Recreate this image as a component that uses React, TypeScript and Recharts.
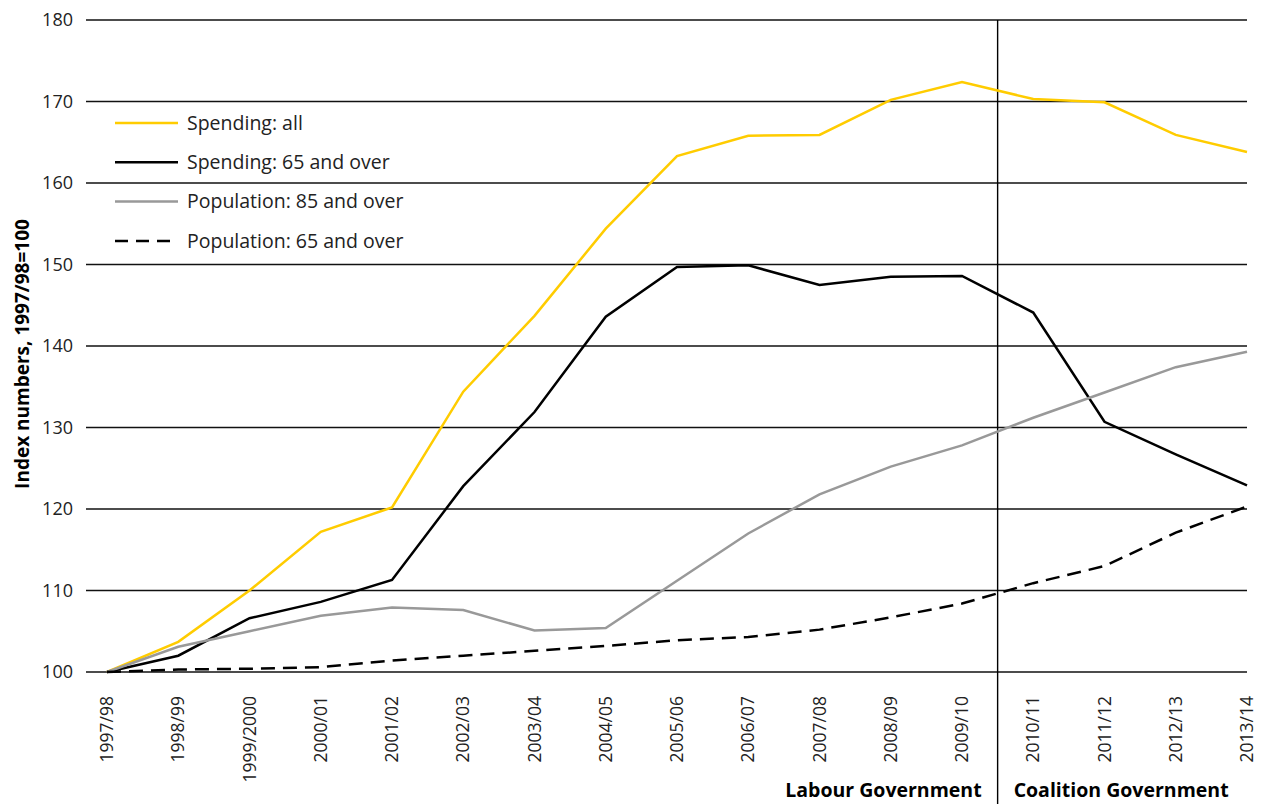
import * as React from "react";
import {
  LineChart,
  Line,
  XAxis,
  YAxis,
  CartesianGrid,
  ReferenceLine,
  Legend,
} from "recharts";

const categories = [
  "1997/98", "1998/99", "1999/2000", "2000/01", "2001/02", "2002/03",
  "2003/04", "2004/05", "2005/06", "2006/07", "2007/08", "2008/09",
  "2009/10", "2010/11", "2011/12", "2012/13", "2013/14",
];

const spendingAll = [
  100, 103.7, 110.0, 117.2, 120.2, 134.4, 143.7, 154.4, 163.3, 165.8,
  165.9, 170.2, 172.4, 170.3, 169.9, 165.9, 163.8,
];
const spending65 = [
  100, 102.0, 106.6, 108.6, 111.3, 122.8, 131.9, 143.6, 149.7, 149.9,
  147.5, 148.5, 148.6, 144.1, 130.7, 126.7, 122.9,
];
const population85 = [
  100, 103.1, 105.0, 106.9, 107.9, 107.6, 105.1, 105.4, 111.2, 117.0,
  121.8, 125.2, 127.8, 131.2, 134.3, 137.4, 139.3,
];
const population65 = [
  100, 100.3, 100.4, 100.6, 101.4, 102.0, 102.6, 103.2, 103.9, 104.3,
  105.2, 106.7, 108.4, 110.9, 113.0, 117.1, 120.3,
];

const yTicks = [100, 110, 120, 130, 140, 150, 160, 170, 180];

// the split between the two governments sits between 2009/10 and 2010/11
const govSplit = 12.5;

const series = [
  { key: "all", name: "Spending: all", color: "#FFCC00", dash: undefined },
  { key: "s65", name: "Spending: 65 and over", color: "#000000", dash: undefined },
  { key: "p85", name: "Population: 85 and over", color: "#999999", dash: undefined },
  { key: "p65", name: "Population: 65 and over", color: "#000000", dash: "14 8" },
];

const data = categories.map((c, i) => ({
  idx: i,
  label: c,
  all: spendingAll[i],
  s65: spending65[i],
  p85: population85[i],
  p65: population65[i],
}));

const FONT = "'Open Sans', 'Noto Sans', sans-serif";

function XTick(props) {
  const { x, y, payload } = props;
  return (
    <g transform={`translate(${x},${y + 16})`}>
      <text
        transform="rotate(-90)"
        textAnchor="end"
        dy="0.35em"
        fontSize={17.5}
        fontFamily={FONT}
        fill="#222"
      >
        {categories[payload.value]}
      </text>
    </g>
  );
}

function YTick(props) {
  const { y, payload } = props;
  return (
    <text
      x={73}
      y={y}
      dy="0.35em"
      textAnchor="end"
      fontSize={18}
      fontFamily={FONT}
      fill="#222"
    >
      {payload.value}
    </text>
  );
}

function GovLine(p) {
  const top = Math.min(p.y1, p.y2);
  return (
    <g>
      <line x1={p.x1} x2={p.x1} y1={top} y2={804} stroke="#000" strokeWidth={1.4} />
      <text
        x={p.x1 - 16}
        y={797}
        textAnchor="end"
        fontSize={19.5}
        fontWeight="bold"
        fontFamily={FONT}
        fill="#000"
      >
        Labour Government
      </text>
      <text
        x={p.x1 + 16}
        y={797}
        textAnchor="start"
        fontSize={19.5}
        fontWeight="bold"
        fontFamily={FONT}
        fill="#000"
      >
        Coalition Government
      </text>
    </g>
  );
}

function LegendBox() {
  return (
    <svg width={330} height={150} style={{ overflow: "visible", display: "block" }}>
      {series.map((s, i) => (
        <g key={s.key} transform={`translate(0,${i * 39.3})`}>
          <line
            x1={0}
            x2={63}
            y1={10}
            y2={10}
            stroke={s.color}
            strokeWidth={2.5}
            strokeDasharray={s.dash ? "13 8" : undefined}
          />
          <text
            x={72}
            y={10}
            dy="0.35em"
            fontSize={19.5}
            fontFamily={FONT}
            fill="#222"
          >
            {s.name}
          </text>
        </g>
      ))}
    </svg>
  );
}

export default function App() {
  return (
    <div style={{ position: "absolute", left: 0, top: 0, background: "#fff" }}>
      <LineChart
        width={1263}
        height={804}
        data={data}
        margin={{ top: 20, right: 16, bottom: 0, left: 0 }}
      >
        <CartesianGrid vertical={false} stroke="#111" strokeWidth={1.3} />
        <XAxis
          dataKey="idx"
          type="number"
          domain={[0, 16]}
          ticks={categories.map((_, i) => i)}
          interval={0}
          padding={{ left: 21, right: 0 }}
          axisLine={false}
          tickLine={false}
          height={132}
          tick={<XTick />}
        />
        <YAxis
          domain={[100, 180]}
          ticks={yTicks}
          interval={0}
          axisLine={false}
          tickLine={false}
          width={86}
          tick={<YTick />}
          label={{
            content: () => (
              <text
                x={22}
                y={354}
                transform="rotate(-90, 22, 354)"
                textAnchor="middle"
                dy="0.35em"
                fontSize={19}
                fontWeight="bold"
                fontFamily={FONT}
                fill="#000"
              >
                Index numbers, 1997/98=100
              </text>
            ),
          }}
        />
        <ReferenceLine x={govSplit} ifOverflow="visible" shape={GovLine} />
        {series.map((s) => (
          <Line
            key={s.key}
            dataKey={s.key}
            name={s.name}
            stroke={s.color}
            strokeWidth={2.5}
            strokeDasharray={s.dash}
            dot={false}
            activeDot={false}
            type="linear"
            isAnimationActive={false}
          />
        ))}
        <Legend
          layout="horizontal"
          align="center"
          verticalAlign="middle"
          wrapperStyle={{ left: 115, top: 113, width: 330, height: 150 }}
          content={() => <LegendBox />}
        />
      </LineChart>
    </div>
  );
}
